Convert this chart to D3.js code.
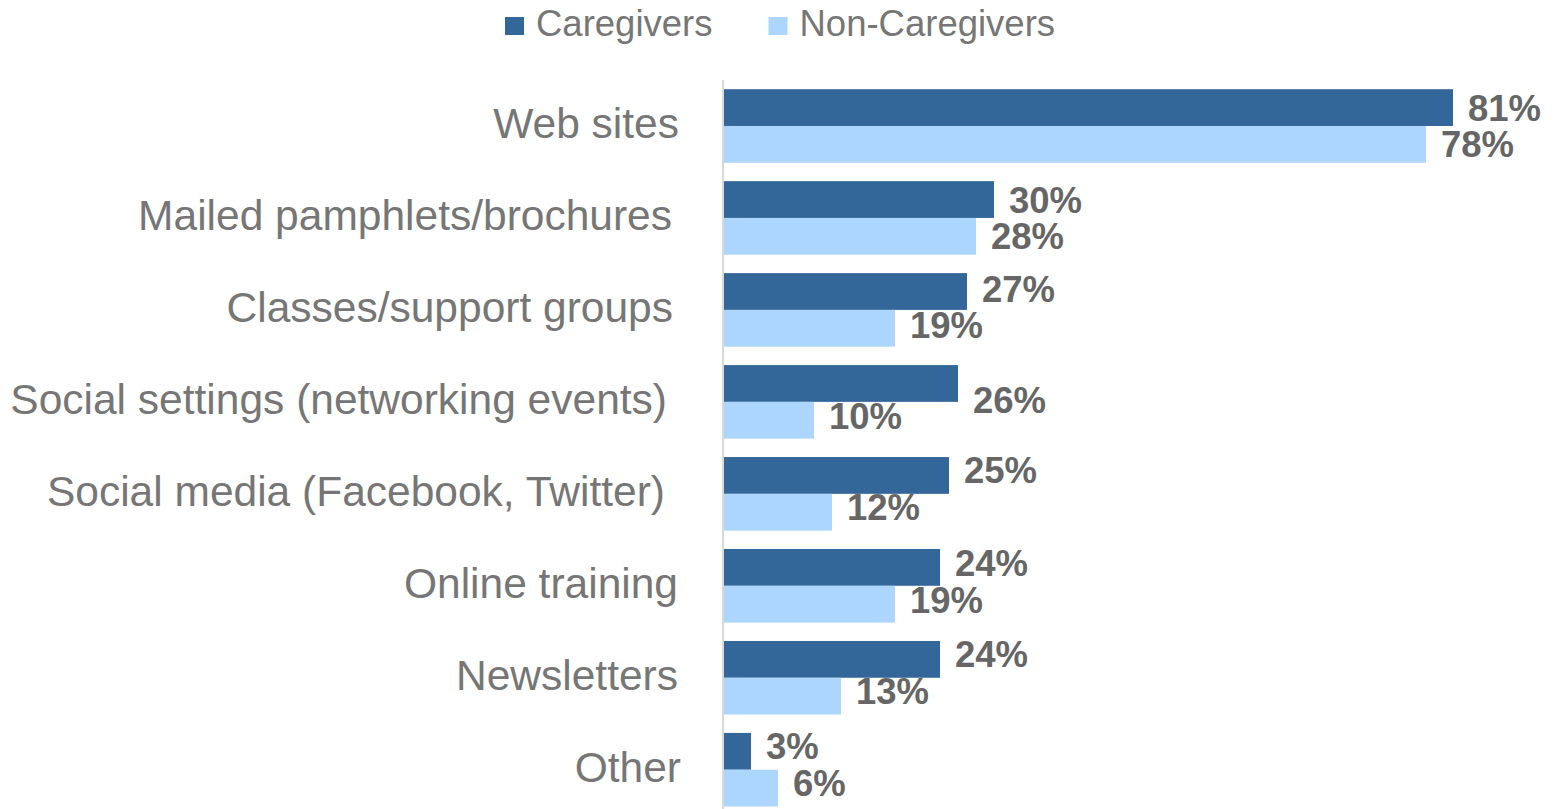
<!DOCTYPE html>
<html>
<head>
<meta charset="utf-8">
<script src="https://cdn.jsdelivr.net/npm/d3@7"></script>
<style>
  html, body { margin: 0; padding: 0; background: #ffffff; }
  svg { display: block; font-family: "Liberation Sans", Arial, sans-serif; }
</style>
</head>
<body>
<svg id="chart" width="1555" height="809"></svg>
<script>
// Sources of information, share of respondents (%)
const categories = [
  "Web sites",
  "Mailed pamphlets/brochures",
  "Classes/support groups",
  "Social settings (networking events)",
  "Social media (Facebook, Twitter)",
  "Online training",
  "Newsletters",
  "Other"
];
const seriesNames = ["Caregivers", "Non-Caregivers"];
const caregivers    = [81, 30, 27, 26, 25, 24, 24, 3];
const nonCaregivers = [78, 28, 19, 10, 12, 19, 13, 6];

const colors = { "Caregivers": "#336699", "Non-Caregivers": "#add6fe" };

// Category label right edges and value-label vertical nudges (layout only)
const labelRight = {
  "Web sites": 679, "Mailed pamphlets/brochures": 672, "Classes/support groups": 673,
  "Social settings (networking events)": 667, "Social media (Facebook, Twitter)": 665,
  "Online training": 678, "Newsletters": 678, "Other": 681
};
const valueNudge = {
  "Classes/support groups": [-3, -3],
  "Social settings (networking events)": [17, -4],
  "Social media (Facebook, Twitter)": [-5, -5],
  "Online training": [-4, -4],
  "Newsletters": [-5, -5],
  "Other": [-5, -5]
};

const rows = categories.map((c, i) => ({
  category: c,
  values: [
    { series: "Caregivers", value: caregivers[i] },
    { series: "Non-Caregivers", value: nonCaregivers[i] }
  ]
}));

const svg = d3.select("#chart");

const x = d3.scaleLinear().domain([0, 92]).range([724, 1552]);
const y = d3.scaleBand().domain(categories).range([80, 815.7])
  .paddingInner(0.2).paddingOuter(0.1);
const ySub = d3.scaleBand().domain(seriesNames).range([0, y.bandwidth()]);

// Bars
const groups = svg.append("g").selectAll("g")
  .data(rows).join("g")
  .attr("transform", d => `translate(0,${y(d.category)})`);

groups.selectAll("rect")
  .data(d => d.values).join("rect")
  .attr("x", x(0))
  .attr("y", d => ySub(d.series))
  .attr("width", d => x(d.value) - x(0))
  .attr("height", ySub.bandwidth())
  .attr("fill", d => colors[d.series]);

// Value labels
groups.selectAll("text.val")
  .data(d => d.values.map((v, j) => ({ ...v, category: d.category, j })))
  .join("text")
  .attr("class", "val")
  .attr("x", d => x(d.value) + 15)
  .attr("y", d => ySub(d.series) + ySub.bandwidth() / 2 + 13 + ((valueNudge[d.category] || [0, 0])[d.j]))
  .attr("font-size", 36.5)
  .attr("font-weight", "bold")
  .attr("fill", "#666666")
  .text(d => d.value + "%");

// Category axis line
svg.append("line")
  .attr("x1", 723).attr("x2", 723)
  .attr("y1", y.range()[0]).attr("y2", y.range()[1])
  .attr("stroke", "#d9d9d9").attr("stroke-width", 2);

// Category labels
svg.append("g").selectAll("text")
  .data(categories).join("text")
  .attr("x", d => labelRight[d])
  .attr("y", d => y(d) + y.bandwidth() / 2 + 12.5)
  .attr("text-anchor", "end")
  .attr("font-size", 42.5)
  .attr("fill", "#767676")
  .text(d => d);

// Legend
const legend = svg.append("g");
let lx = 505;
seriesNames.forEach(name => {
  legend.append("rect")
    .attr("x", lx).attr("y", 17)
    .attr("width", 19).attr("height", 18)
    .attr("fill", colors[name]);
  const t = legend.append("text")
    .attr("x", lx + 31).attr("y", 36)
    .attr("font-size", 36.5)
    .attr("fill", "#767676")
    .text(name);
  lx = lx + 31 + t.node().getComputedTextLength() + 56;
});
</script>
</body>
</html>
